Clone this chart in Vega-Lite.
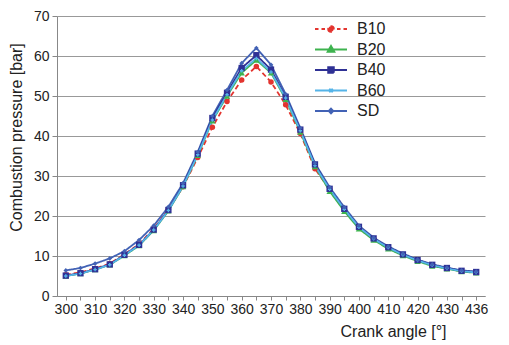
{
  "$schema": "https://vega.github.io/schema/vega-lite/v6.json",
  "width": 428,
  "height": 280,
  "autosize": "none",
  "padding": {"left": 57, "top": 16, "right": 24, "bottom": 49},
  "background": "white",
  "config": {
    "view": {"stroke": null},
    "font": "Liberation Sans",
    "axis": {"labelFont": "Liberation Sans", "titleFont": "Liberation Sans", "labelColor": "#222", "titleColor": "#222", "titleFontWeight": "normal"}
  },
  "data": {"values": [
    {"angle":300,"fuel":"SD","pressure":6.4},{"angle":300,"fuel":"B10","pressure":5.3},{"angle":300,"fuel":"B20","pressure":5.0},{"angle":300,"fuel":"B40","pressure":5.1},{"angle":300,"fuel":"B60","pressure":5.0},
    {"angle":305,"fuel":"SD","pressure":7.0},{"angle":305,"fuel":"B10","pressure":5.9},{"angle":305,"fuel":"B20","pressure":5.6},{"angle":305,"fuel":"B40","pressure":5.7},{"angle":305,"fuel":"B60","pressure":5.6},
    {"angle":310,"fuel":"SD","pressure":8.1},{"angle":310,"fuel":"B10","pressure":6.9},{"angle":310,"fuel":"B20","pressure":6.6},{"angle":310,"fuel":"B40","pressure":6.7},{"angle":310,"fuel":"B60","pressure":6.6},
    {"angle":315,"fuel":"SD","pressure":9.4},{"angle":315,"fuel":"B10","pressure":8.1},{"angle":315,"fuel":"B20","pressure":7.8},{"angle":315,"fuel":"B40","pressure":7.9},{"angle":315,"fuel":"B60","pressure":7.8},
    {"angle":320,"fuel":"SD","pressure":11.2},{"angle":320,"fuel":"B10","pressure":10.4},{"angle":320,"fuel":"B20","pressure":10.1},{"angle":320,"fuel":"B40","pressure":10.3},{"angle":320,"fuel":"B60","pressure":10.2},
    {"angle":325,"fuel":"SD","pressure":14.0},{"angle":325,"fuel":"B10","pressure":13.0},{"angle":325,"fuel":"B20","pressure":12.6},{"angle":325,"fuel":"B40","pressure":12.8},{"angle":325,"fuel":"B60","pressure":12.7},
    {"angle":330,"fuel":"SD","pressure":17.6},{"angle":330,"fuel":"B10","pressure":16.8},{"angle":330,"fuel":"B20","pressure":16.4},{"angle":330,"fuel":"B40","pressure":16.6},{"angle":330,"fuel":"B60","pressure":16.5},
    {"angle":335,"fuel":"SD","pressure":22.3},{"angle":335,"fuel":"B10","pressure":21.6},{"angle":335,"fuel":"B20","pressure":21.3},{"angle":335,"fuel":"B40","pressure":21.5},{"angle":335,"fuel":"B60","pressure":21.4},
    {"angle":340,"fuel":"SD","pressure":28.2},{"angle":340,"fuel":"B10","pressure":27.3},{"angle":340,"fuel":"B20","pressure":27.4},{"angle":340,"fuel":"B40","pressure":27.7},{"angle":340,"fuel":"B60","pressure":27.5},
    {"angle":345,"fuel":"SD","pressure":36.0},{"angle":345,"fuel":"B10","pressure":34.6},{"angle":345,"fuel":"B20","pressure":35.2},{"angle":345,"fuel":"B40","pressure":35.6},{"angle":345,"fuel":"B60","pressure":35.3},
    {"angle":350,"fuel":"SD","pressure":45.0},{"angle":350,"fuel":"B10","pressure":42.2},{"angle":350,"fuel":"B20","pressure":43.8},{"angle":350,"fuel":"B40","pressure":44.5},{"angle":350,"fuel":"B60","pressure":44.0},
    {"angle":355,"fuel":"SD","pressure":51.5},{"angle":355,"fuel":"B10","pressure":48.6},{"angle":355,"fuel":"B20","pressure":50.0},{"angle":355,"fuel":"B40","pressure":50.8},{"angle":355,"fuel":"B60","pressure":50.3},
    {"angle":360,"fuel":"SD","pressure":58.2},{"angle":360,"fuel":"B10","pressure":54.0},{"angle":360,"fuel":"B20","pressure":55.8},{"angle":360,"fuel":"B40","pressure":57.0},{"angle":360,"fuel":"B60","pressure":56.3},
    {"angle":365,"fuel":"SD","pressure":62.0},{"angle":365,"fuel":"B10","pressure":57.4},{"angle":365,"fuel":"B20","pressure":59.0},{"angle":365,"fuel":"B40","pressure":60.2},{"angle":365,"fuel":"B60","pressure":59.4},
    {"angle":370,"fuel":"SD","pressure":57.8},{"angle":370,"fuel":"B10","pressure":53.5},{"angle":370,"fuel":"B20","pressure":55.8},{"angle":370,"fuel":"B40","pressure":56.6},{"angle":370,"fuel":"B60","pressure":56.0},
    {"angle":375,"fuel":"SD","pressure":50.5},{"angle":375,"fuel":"B10","pressure":47.8},{"angle":375,"fuel":"B20","pressure":49.2},{"angle":375,"fuel":"B40","pressure":49.8},{"angle":375,"fuel":"B60","pressure":49.5},
    {"angle":380,"fuel":"SD","pressure":42.0},{"angle":380,"fuel":"B10","pressure":40.6},{"angle":380,"fuel":"B20","pressure":41.0},{"angle":380,"fuel":"B40","pressure":41.6},{"angle":380,"fuel":"B60","pressure":41.3},
    {"angle":385,"fuel":"SD","pressure":33.2},{"angle":385,"fuel":"B10","pressure":31.8},{"angle":385,"fuel":"B20","pressure":32.4},{"angle":385,"fuel":"B40","pressure":32.9},{"angle":385,"fuel":"B60","pressure":32.6},
    {"angle":390,"fuel":"SD","pressure":27.2},{"angle":390,"fuel":"B10","pressure":26.6},{"angle":390,"fuel":"B20","pressure":26.2},{"angle":390,"fuel":"B40","pressure":26.8},{"angle":390,"fuel":"B60","pressure":26.7},
    {"angle":395,"fuel":"SD","pressure":22.2},{"angle":395,"fuel":"B10","pressure":21.6},{"angle":395,"fuel":"B20","pressure":21.2},{"angle":395,"fuel":"B40","pressure":21.8},{"angle":395,"fuel":"B60","pressure":21.7},
    {"angle":400,"fuel":"SD","pressure":17.6},{"angle":400,"fuel":"B10","pressure":17.2},{"angle":400,"fuel":"B20","pressure":16.8},{"angle":400,"fuel":"B40","pressure":17.3},{"angle":400,"fuel":"B60","pressure":17.2},
    {"angle":405,"fuel":"SD","pressure":14.6},{"angle":405,"fuel":"B10","pressure":14.3},{"angle":405,"fuel":"B20","pressure":14.0},{"angle":405,"fuel":"B40","pressure":14.4},{"angle":405,"fuel":"B60","pressure":14.3},
    {"angle":410,"fuel":"SD","pressure":12.4},{"angle":410,"fuel":"B10","pressure":12.1},{"angle":410,"fuel":"B20","pressure":11.8},{"angle":410,"fuel":"B40","pressure":12.2},{"angle":410,"fuel":"B60","pressure":12.1},
    {"angle":415,"fuel":"SD","pressure":10.6},{"angle":415,"fuel":"B10","pressure":10.3},{"angle":415,"fuel":"B20","pressure":10.1},{"angle":415,"fuel":"B40","pressure":10.4},{"angle":415,"fuel":"B60","pressure":10.3},
    {"angle":420,"fuel":"SD","pressure":9.1},{"angle":420,"fuel":"B10","pressure":8.9},{"angle":420,"fuel":"B20","pressure":8.7},{"angle":420,"fuel":"B40","pressure":9.0},{"angle":420,"fuel":"B60","pressure":8.9},
    {"angle":425,"fuel":"SD","pressure":7.9},{"angle":425,"fuel":"B10","pressure":7.7},{"angle":425,"fuel":"B20","pressure":7.5},{"angle":425,"fuel":"B40","pressure":7.8},{"angle":425,"fuel":"B60","pressure":7.7},
    {"angle":430,"fuel":"SD","pressure":7.1},{"angle":430,"fuel":"B10","pressure":6.9},{"angle":430,"fuel":"B20","pressure":6.8},{"angle":430,"fuel":"B40","pressure":7.0},{"angle":430,"fuel":"B60","pressure":6.9},
    {"angle":435,"fuel":"SD","pressure":6.4},{"angle":435,"fuel":"B10","pressure":6.2},{"angle":435,"fuel":"B20","pressure":6.1},{"angle":435,"fuel":"B40","pressure":6.3},{"angle":435,"fuel":"B60","pressure":6.2},
    {"angle":436,"fuel":"SD","pressure":6.1},{"angle":436,"fuel":"B10","pressure":5.9},{"angle":436,"fuel":"B20","pressure":5.8},{"angle":436,"fuel":"B40","pressure":6.0},{"angle":436,"fuel":"B60","pressure":5.9}
  ]},
  "encoding": {
    "x": {
      "field": "angle", "type": "ordinal",
      "scale": {"type": "point", "padding": 0.6},
      "axis": {
        "title": "Crank angle [°]", "titleFontSize": 16, "titleX": 283, "titleY": 27, "titleBaseline": "top", "titleAnchor": "start", "titleAlign": "left",
        "labelExpr": "(datum.value % 10 == 0 || datum.value == 436) ? datum.label : ''",
        "labelAngle": 0, "labelFontSize": 14, "labelOverlap": false, "labelFlush": false, "labelPadding": 2,
        "tickSize": 4, "tickColor": "#888", "domainColor": "#888", "grid": false
      }
    },
    "y": {
      "field": "pressure", "type": "quantitative",
      "scale": {"domain": [0, 70], "nice": false, "zero": true},
      "axis": {
        "title": "Combustion pressure [bar]", "titleFontSize": 16, "titleX": -33, "titleY": 121,
        "values": [0, 10, 20, 30, 40, 50, 60, 70],
        "labelFontSize": 14, "labelPadding": 3, "tickSize": 5, "tickColor": "#888", "domainColor": "#888",
        "grid": true, "gridColor": "#999999", "gridWidth": 1.2
      }
    }
  },
  "layer": [
    {
      "mark": {"type": "line", "strokeWidth": 1.8},
      "encoding": {
        "color": {
          "field": "fuel", "type": "nominal",
          "scale": {"domain": ["B10", "B20", "B40", "B60", "SD"], "range": ["#e3342f", "#3eb34f", "#2f3195", "#55b4e8", "#4262b5"]},
          "legend": {
            "title": null, "orient": "none", "legendX": 266, "legendY": 5,
            "labelFontSize": 16, "labelFont": "Liberation Sans", "labelColor": "#222",
            "symbolSize": 100, "symbolStrokeWidth": 2, "labelOffset": 18, "rowPadding": 4.5,
            "encode": {
              "symbols": {
                "update": {
                  "shape": {"signal": "datum.value == 'B10' ? 'M-3.2,0L-2.5,0M-1.9,0L-1.2,0M1.2,0L1.9,0M2.5,0L3.2,0M-0.55,0A0.55,0.55 0 1,0 0.55,0A0.55,0.55 0 1,0 -0.55,0Z' : datum.value == 'B20' ? 'M-3.2,0L3.2,0M0,-0.7L0.65,0.45L-0.65,0.45Z' : datum.value == 'B40' ? 'M-3.2,0L3.2,0M-0.55,-0.55L0.55,-0.55L0.55,0.55L-0.55,0.55Z' : datum.value == 'B60' ? 'M-3.2,0L3.2,0M-0.35,-0.35L0.35,0.35M-0.35,0.35L0.35,-0.35' : 'M-3.2,0L3.2,0M0,-0.45L0.45,0L0,0.45L-0.45,0Z'"},
                  "fill": {"signal": "scale('color', datum.value)"},
                  "stroke": {"signal": "scale('color', datum.value)"},
                  "strokeWidth": {"value": 2},
                  "strokeDash": {"value": []}
                }
              }
            }
          }
        },
        "strokeDash": {
          "field": "fuel", "type": "nominal",
          "scale": {"domain": ["B10", "B20", "B40", "B60", "SD"], "range": [[5, 3], [1, 0], [1, 0], [1, 0], [1, 0]]},
          "legend": null
        }
      }
    },
    {
      "transform": [{"filter": "datum.fuel == 'B10'"}],
      "mark": {"type": "point", "filled": true, "opacity": 1, "shape": "circle", "size": 30},
      "encoding": {"color": {"field": "fuel", "type": "nominal", "legend": null}}
    },
    {
      "transform": [{"filter": "datum.fuel == 'B20'"}],
      "mark": {"type": "point", "filled": true, "opacity": 1, "shape": "triangle-up", "size": 40},
      "encoding": {"color": {"field": "fuel", "type": "nominal", "legend": null}}
    },
    {
      "transform": [{"filter": "datum.fuel == 'B40'"}],
      "mark": {"type": "point", "filled": true, "opacity": 1, "shape": "square", "size": 40},
      "encoding": {"color": {"field": "fuel", "type": "nominal", "legend": null}}
    },
    {
      "transform": [{"filter": "datum.fuel == 'B60'"}],
      "mark": {"type": "point", "filled": true, "opacity": 1, "shape": "cross", "size": 12},
      "encoding": {"color": {"field": "fuel", "type": "nominal", "legend": null}}
    },
    {
      "transform": [{"filter": "datum.fuel == 'SD'"}],
      "mark": {"type": "point", "filled": true, "opacity": 1, "shape": "diamond", "size": 22},
      "encoding": {"color": {"field": "fuel", "type": "nominal", "legend": null}}
    }
  ]
}
